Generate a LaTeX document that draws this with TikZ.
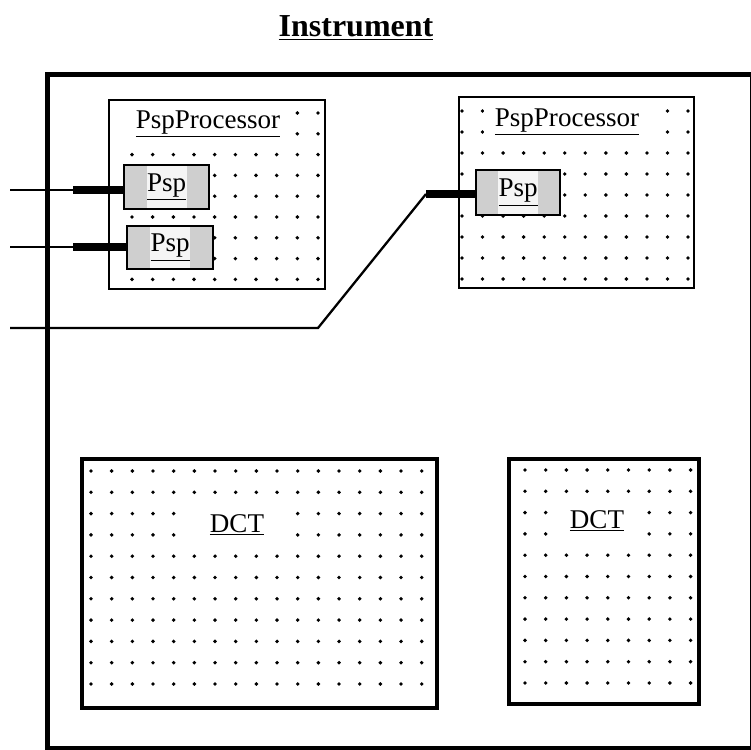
\documentclass[tikz,border=0pt]{standalone}
\usepackage{fontspec}
\setmainfont{Liberation Serif}
\usetikzlibrary{positioning}
\newlength\px
\setlength\px{0.02cm}
\newcommand\boxfont{\fontsize{15.4}{18}\selectfont}
\newcommand\headfont{\fontsize{18.2}{21}\selectfont\bfseries}
\tikzset{
  box/.style={draw,fill=white,anchor=north west,inner sep=0pt},
  tag/.style={fill=white,font=\boxfont,inner ysep=4pt},
  pspbox/.style={draw,line width=1.4pt,fill=gray!38,anchor=north west,inner sep=0pt,font=\boxfont,
    path picture={\fill[gray!8] ([xshift=-20\px]path picture bounding box.north) rectangle ([xshift=20\px]path picture bounding box.south);}},
  wire/.style={line width=1.3pt},
  stub/.style={line width=4.8pt}
}
\begin{document}
\begin{tikzpicture}[x=\px,y=-\px]
  \useasboundingbox (0,0) rectangle (751,750);
  \node[box,line width=2.8pt,minimum width=705\px,minimum height=674\px] (instr) at (45,72) {};
  \node[font=\headfont] (title) at (356,28) {\underline{Instrument}};

  \node[box,line width=1.4pt,minimum width=216\px,minimum height=189\px] (procA) at (108,99) {};
  \node[box,line width=1.4pt,minimum width=235\px,minimum height=191\px] (procB) at (458,96) {};
  \node[box,line width=2pt,minimum width=355\px,minimum height=249\px] (dctA) at (80,457) {};
  \node[box,line width=2pt,minimum width=190\px,minimum height=245\px] (dctB) at (507,457) {};

  % dot grids
  \foreach \xa/\ya/\nx/\ny/\dx/\dy in {132/113/9/8/20.67/20.8, 462/111/11/8/20.55/21,
      91/471/16/10/20.67/21.3, 525/470/8/10/20.7/21.3}{
    \foreach \i in {0,...,\nx}
      \foreach \j in {0,...,\ny}
        \fill ({\xa+\i*\dx},{\ya+\j*\dy}) circle[radius=1.1pt];
  }

  \node[tag,inner xsep=7pt] (procAt) at (208,124) {\underline{PspProcessor}};
  \node[tag,inner xsep=6pt] (procBt) at (567,122) {\underline{PspProcessor}};
  \node[tag,inner xsep=14pt,inner ysep=5pt] (dctAt) at (237,525) {\underline{DCT}};
  \node[tag,inner xsep=8pt,inner ysep=5pt] (dctBt) at (597,521) {\underline{DCT}};

  \node[pspbox,minimum width=85\px,minimum height=44\px] (pspA) at (123,164) {\underline{Psp}};
  \node[pspbox,minimum width=86\px,minimum height=43\px] (pspB) at (126,225) {\underline{Psp}};
  \node[pspbox,minimum width=84\px,minimum height=45\px] (pspC) at (475,169) {\underline{Psp}};

  % ports
  \coordinate (inA) at (10,190);
  \coordinate (stubA) at (73,190);
  \coordinate (inB) at (10,247);
  \coordinate (stubB) at (73,247);
  \coordinate (inC) at (10,328);
  \coordinate (bendC) at (318,328);
  \coordinate (stubC) at (426,194);
  \draw[wire] (inA) -- (stubA);
  \draw[wire] (inB) -- (stubB);
  \draw[wire] (inC) -- (bendC) -- (stubC);
  \draw[stub] (stubA) -- (stubA -| pspA.west);
  \draw[stub] (stubB) -- (stubB -| pspB.west);
  \draw[stub] (stubC) -- (stubC -| pspC.west);
\end{tikzpicture}
\end{document}
